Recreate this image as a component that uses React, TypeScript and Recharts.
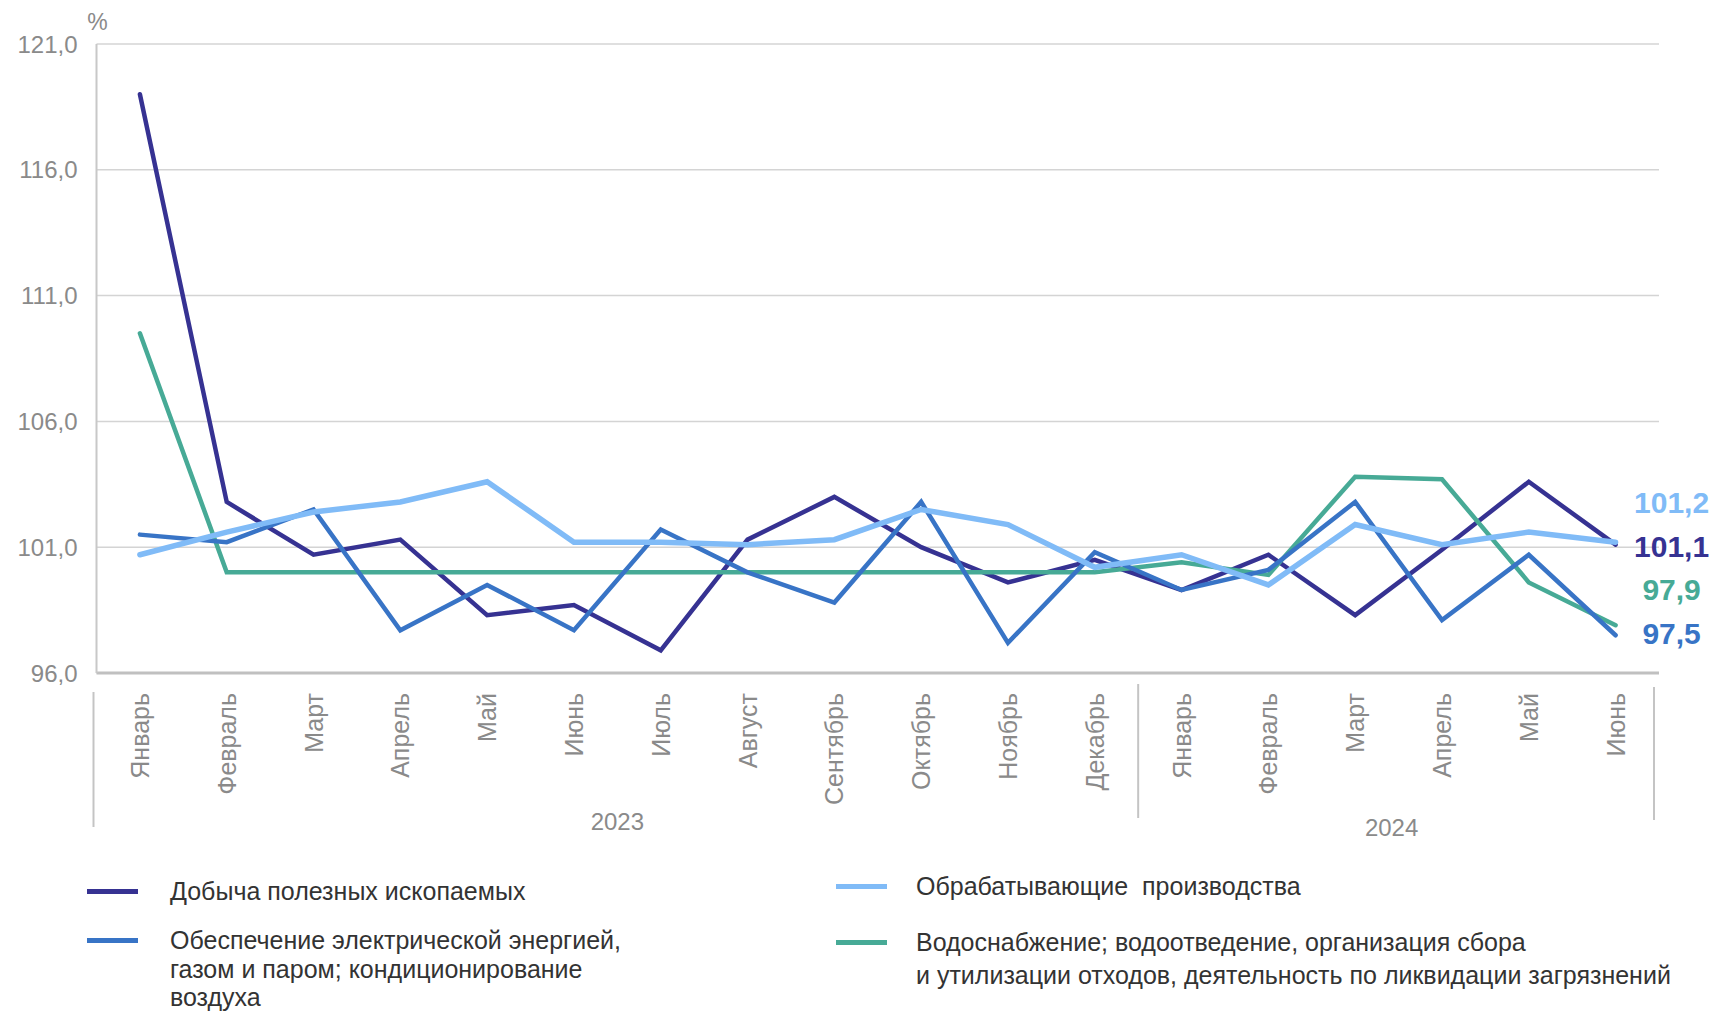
import React from 'react';
import { LineChart, Line, XAxis, YAxis, CartesianGrid, LabelList } from 'recharts';

const months = [
  'Январь', 'Февраль', 'Март', 'Апрель', 'Май', 'Июнь', 'Июль', 'Август', 'Сентябрь',
  'Октябрь', 'Ноябрь', 'Декабрь', 'Январь', 'Февраль', 'Март', 'Апрель', 'Май', 'Июнь',
];
const years = ['2023', '2024'];

const mining = [119.0, 102.8, 100.7, 101.3, 98.3, 98.7, 96.9, 101.3, 103.0, 101.0, 99.6, 100.5, 99.3, 100.7, 98.3, 100.9, 103.6, 101.1];
const manufacturing = [100.7, 101.6, 102.4, 102.8, 103.6, 101.2, 101.2, 101.1, 101.3, 102.5, 101.9, 100.2, 100.7, 99.5, 101.9, 101.1, 101.6, 101.2];
const electricity = [101.5, 101.2, 102.5, 97.7, 99.5, 97.7, 101.7, 100.0, 98.8, 102.8, 97.2, 100.8, 99.3, 100.1, 102.8, 98.1, 100.7, 97.5];
const water = [109.5, 100.0, 100.0, 100.0, 100.0, 100.0, 100.0, 100.0, 100.0, 100.0, 100.0, 100.0, 100.4, 99.9, 103.8, 103.7, 99.6, 97.9];

const yTicks = [96, 101, 106, 111, 116, 121];

const data = months.map((m, i) => ({
  idx: i,
  month: m,
  mining: mining[i],
  manufacturing: manufacturing[i],
  electricity: electricity[i],
  water: water[i],
}));

const FONT = '"Liberation Sans", Arial, sans-serif';
const W = 1714;
const H = 1011;
const MARGIN = { top: 44, right: 55, left: 16.5, bottom: 208 };
const Y_WIDTH = 80;
const X_HEIGHT = 130;
const BAND = (W - MARGIN.left - Y_WIDTH - MARGIN.right) / months.length;
const SEP = '#c4c4c4';
const TICK_GRAY = '#8a8a8a';

const series = [
  { key: 'mining', color: '#363292', width: 4.5, dy: 2 },
  { key: 'water', color: '#47aa96', width: 4.5, dy: -36 },
  { key: 'electricity', color: '#3874c6', width: 4.5, dy: -2 },
  { key: 'manufacturing', color: '#80bbf7', width: 5.5, dy: -40 },
];

const fmt = (v: number) => v.toFixed(1).replace('.', ',');

const MonthTick = (props: any) => {
  const { x, y, payload, index } = props;
  const i = Number(payload.value);
  return (
    <g transform={`translate(${x},${y})`}>
      <text
        transform="rotate(-90)"
        x={-12}
        y={0}
        dy="0.36em"
        textAnchor="end"
        fill={TICK_GRAY}
        fontSize={25}
        fontFamily={FONT}
      >
        {months[i]}
      </text>
      {index === 0 && <line x1={-BAND / 2 - 3} x2={-BAND / 2 - 3} y1={11} y2={146} stroke={SEP} strokeWidth={2} />}
      {index === 12 && <line x1={-BAND / 2} x2={-BAND / 2} y1={3} y2={137} stroke={SEP} strokeWidth={2} />}
      {index === months.length - 1 && (
        <line x1={BAND / 2 - 5} x2={BAND / 2 - 5} y1={6} y2={139} stroke={SEP} strokeWidth={2} />
      )}
      {index === 5 && (
        <text x={BAND / 2} y={140} dy="0.36em" textAnchor="middle" fill={TICK_GRAY} fontSize={24} fontFamily={FONT}>
          {years[0]}
        </text>
      )}
      {index === 14 && (
        <text x={BAND / 2 - 7} y={146} dy="0.36em" textAnchor="middle" fill={TICK_GRAY} fontSize={24} fontFamily={FONT}>
          {years[1]}
        </text>
      )}
    </g>
  );
};

const endLabel = (color: string, dy: number) => (props: any) => {
  const { x, y, index, value } = props;
  if (index !== months.length - 1) return null;
  return (
    <text
      x={x + 56}
      y={y + dy}
      dominantBaseline="central"
      textAnchor="middle"
      fill={color}
      fontSize={30}
      fontWeight="bold"
      fontFamily={FONT}
    >
      {fmt(Number(value))}
    </text>
  );
};

const legendLeft = [
  { color: '#363292', lines: ['Добыча полезных ископаемых'], top: 876, lh: 30 },
  { color: '#3874c6', lines: ['Обеспечение электрической энергией,', 'газом и паром; кондиционирование', 'воздуха'], top: 926, lh: 28.5 },
];
const legendRight = [
  { color: '#80bbf7', lines: ['Обрабатывающие  производства'], top: 871, lh: 30 },
  { color: '#47aa96', lines: ['Водоснабжение; водоотведение, организация сбора', 'и утилизации отходов, деятельность по ликвидации загрязнений'], top: 926, lh: 33 },
];

const LegendItem = ({ item, sx, tx }: { item: any; sx: number; tx: number }) => (
  <div style={{ position: 'absolute', left: 0, top: item.top, width: W }}>
    <div style={{ position: 'absolute', left: sx, top: item.lh / 2 - 2.5, width: 51, height: 5, background: item.color }} />
    <div style={{ position: 'absolute', left: tx, top: 0, fontSize: 25, lineHeight: `${item.lh}px`, color: '#333', whiteSpace: 'pre' }}>
      {item.lines.map((l: string, i: number) => (
        <div key={i}>{l}</div>
      ))}
    </div>
  </div>
);

export default function App() {
  return (
    <div style={{ position: 'absolute', left: 0, top: 0, width: W, height: H, background: '#fff', fontFamily: FONT }}>
      <LineChart width={W} height={H} data={data} margin={MARGIN}>
        <CartesianGrid vertical={false} stroke="#d4d4d4" strokeWidth={1.5} />
        <XAxis
          dataKey="idx"
          type="category"
          interval={0}
          height={X_HEIGHT}
          padding={{ left: BAND / 2, right: BAND / 2 }}
          tickLine={false}
          axisLine={{ stroke: '#c0c0c0', strokeWidth: 3 }}
          tick={<MonthTick />}
        />
        <YAxis
          domain={[96, 121]}
          ticks={yTicks}
          width={Y_WIDTH}
          tickLine={false}
          tickSize={0}
          tickMargin={19}
          axisLine={{ stroke: '#c8c8c8', strokeWidth: 2 }}
          tick={{ fill: TICK_GRAY, fontSize: 24, fontFamily: FONT }}
          tickFormatter={fmt}
          label={{
            content: (p: any) => (
              <text
                x={p.viewBox.x + p.viewBox.width + 1}
                y={p.viewBox.y - 22}
                dominantBaseline="central"
                textAnchor="middle"
                fill={TICK_GRAY}
                fontSize={23}
                fontFamily={FONT}
              >
                %
              </text>
            ),
          }}
        />
        {series.map((s) => (
          <Line
            key={s.key}
            dataKey={s.key}
            type="linear"
            stroke={s.color}
            strokeWidth={s.width}
            strokeLinecap="round"
            dot={false}
            activeDot={false}
            isAnimationActive={false}
          >
            <LabelList dataKey={s.key} content={endLabel(s.color, s.dy)} />
          </Line>
        ))}
      </LineChart>
      {legendLeft.map((it, i) => (
        <LegendItem key={`l${i}`} item={it} sx={87} tx={170} />
      ))}
      {legendRight.map((it, i) => (
        <LegendItem key={`r${i}`} item={it} sx={836} tx={916} />
      ))}
    </div>
  );
}
